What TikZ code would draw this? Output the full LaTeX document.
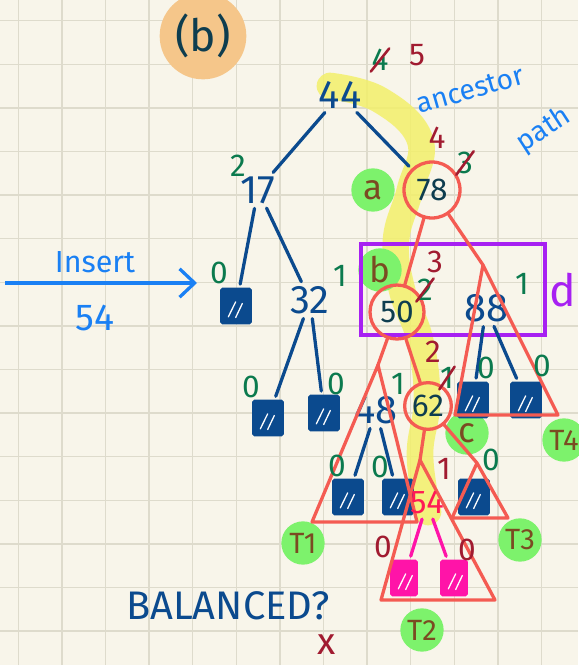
\documentclass[tikz,border=0pt]{standalone}
\usepackage{fontspec}
\setmainfont{Fira Sans}
\usepackage{tikz}
\usetikzlibrary{
  arrows.meta,
  positioning,
  calc
}
\definecolor{Cream}{HTML}{F8F5EA}
\definecolor{GridLine}{HTML}{DEDBCC}
\definecolor{Navy}{HTML}{0B4A8E}
\definecolor{Ink}{HTML}{0E3D4F}
\definecolor{Moss}{HTML}{0B7A4E}
\definecolor{Wine}{HTML}{A11B30}
\definecolor{Coral}{HTML}{F45B52}
\definecolor{Violet}{HTML}{A720F2}
\definecolor{Sky}{HTML}{1A80F4}
\definecolor{Lime}{HTML}{7DF26C}
\definecolor{Umber}{HTML}{7A4B22}
\definecolor{Peach}{HTML}{F5C68A}
\definecolor{Lemon}{HTML}{F3F06A}
\definecolor{Magenta}{HTML}{FF14A8}
\definecolor{Rose}{HTML}{FF1A55}
\tikzset{
  % Tree key
  key/.style={
    inner sep=1pt, text=Navy,
    font=\fontsize{34}{34}\selectfont
  },
  % Key on the ancestor path, ringed in red
  ring/.style={
    circle, inner sep=0pt, draw=Coral, line width=2.8pt,
    text=Ink, font=\fontsize{27}{27}\selectfont
  },
  % Empty subtree box
  leaf/.style={
    rectangle, rounded corners=1.5pt, inner sep=0pt,
    draw=#1, fill=#1, line width=1.6pt,
    minimum width=0.9cm, minimum height=1.05cm,
    path picture={
      \draw[white, line width=1.1pt, line cap=round]
        ([shift={(0.22cm,0.2cm)}]path picture bounding box.south west) -- ++(0.22cm,0.45cm)
        ([shift={(0.44cm,0.18cm)}]path picture bounding box.south west) -- ++(0.2cm,0.42cm);
    }
  },
  % Height / balance figure
  bal/.style={inner sep=0.5pt, text=#1, font=\fontsize{27}{27}\selectfont},
  % Green marker disc
  spot/.style={
    circle, fill=Lime, inner sep=0pt, minimum size=1.3cm,
    text=Umber, font=\fontsize{30}{30}\selectfont
  },
  % Tree edge
  link/.style={line width=2.8pt, color=Navy, line cap=round, shorten <=3pt, shorten >=3pt},
  % Red edge on the path
  redge/.style={line width=2.8pt, color=Coral, line cap=round},
  % Subtree triangle
  tri/.style={draw=Coral, line width=2.8pt, line join=round},
  % Strike-out of an old figure
  slash/.style={line width=2.2pt, color=Wine, line cap=round},
  % Blue side note
  scrawl/.style={inner sep=0pt, text=Sky, font=\fontsize{24}{24}\selectfont},
  % Insert arrow
  insarr/.style={
    -{Straight Barb[length=0.45cm,width=0.85cm]},
    line width=2.8pt, color=Sky
  }
}
\begin{document}
\begin{tikzpicture}[x=0.03cm,y=-0.03cm]

  % Paper and grid
  \useasboundingbox (0,0) rectangle (578,665);
  \fill[Cream] (0,0) rectangle (578,665);
  \foreach \i in {0,...,12}{
    \draw[GridLine, line width=1.2pt] ({18.3+43.6*\i},0) -- ({18.3+43.6*\i},665);
  }
  \foreach \j in {0,...,14}{
    \draw[GridLine, line width=1.2pt] (0,{20.7+43.6*\j}) -- (578,{20.7+43.6*\j});
  }

  % Figure tag
  \node[circle, fill=Peach, minimum size=2.6cm, text=Ink,
        font=\fontsize{38}{38}\selectfont] (fig) at (203,36) {(b)};

  % Ancestor path highlight
  \draw[Lemon, opacity=0.85, line width=0.8cm, line cap=round]
    plot[smooth, tension=0.7] coordinates {(330,86) (380,100) (420,140) (410,190)
      (396,240) (402,290) (420,340) (427,400) (420,455) (428,512)};

  % Green markers
  \foreach \n/\t/\x/\y in {ma/a/373/190, mb/b/380/270, mc/c/467/433}{
    \node[spot] (\n) at (\x,\y) {\t};
  }
  \foreach \n/\t/\x/\y in {mT1/T1/303/543, mT2/T2/422/630, mT3/T3/520/540, mT4/T4/564/440}{
    \node[spot, font=\fontsize{25}{25}\selectfont] (\n) at (\x,\y) {\t};
  }

  % Group box d
  \draw[Violet, line width=3pt] (361,244) rectangle (545,335);
  \node[text=Violet, inner sep=0pt, font=\fontsize{38}{38}\selectfont] (dlab) at (563,290) {d};

  % Keys
  \node[key] (n44) at (340,95) {44};
  \node[key] (n17) at (258,190) {17};
  \node[key] (n32) at (310,300) {32};
  \node[key] (n88) at (486,308) {88};
  \node[key] (n48) at (376,410) {48};
  \node[ring, minimum size=1.68cm] (n78) at (432,190) {78};
  \node[ring, minimum size=1.62cm] (n50) at (397,312) {50};
  \node[ring, minimum size=1.4cm] (n62) at (428,406) {62};

  % Empty subtrees
  \foreach \n/\x/\y in {lf1/236/306, lf2/268/418, lf3/324/413, lf4/473/400,
                        lf5/526/400, lf6/348/497, lf7/398/497, lf8/474/497}{
    \node[leaf=Navy] (\n) at (\x,\y) {};
  }
  \foreach \n/\x/\y in {pk1/404/578, pk2/454/578}{
    \node[leaf=Magenta, minimum width=0.78cm] (\n) at (\x,\y) {};
  }

  % Tree edges
  \foreach \a/\b in {n44/n17, n44/n78, n17/lf1, n17/n32, n32/lf2, n32/lf3,
                     n88/lf4, n88/lf5, n48/lf6, n48/lf7}{
    \draw[link] (\a) -- (\b);
  }

  % Subtree triangles
  \coordinate (t1top) at (378,365); \coordinate (t1l) at (312,522); \coordinate (t1r) at (417,522);
  \coordinate (t2top) at (420,460); \coordinate (t2l) at (381,600); \coordinate (t2r) at (495,600);
  \coordinate (t3top) at (477,463); \coordinate (t3l) at (452,518); \coordinate (t3r) at (508,518);
  \coordinate (t4top) at (483,265); \coordinate (t4l) at (455,415); \coordinate (t4r) at (558,415);
  \foreach \s in {t1,t2,t3,t4}{
    \draw[tri] (\s top) -- (\s l) -- (\s r) -- cycle;
  }

  % Red edges down the path
  \draw[redge] (n78) -- (n50);
  \draw[redge] (n78) -- (t4top);
  \draw[redge] (n50) -- (t1top);
  \draw[redge] (n50) -- (n62);
  \draw[redge] (n62) -- (t2top);
  \draw[redge] (n62) -- (t3top);

  % New key and its empty subtrees
  \node[key, text=Rose, font=\fontsize{28}{28}\selectfont] (n54) at (427,503) {54};
  \foreach \a/\b in {n54/pk1, n54/pk2}{
    \draw[link, Magenta] (\a) -- (\b);
  }

  % Heights
  \foreach \n/\v/\x/\y in {h17/2/238/166, hl1/0/219/273, h32/1/340/276, hl2/0/251/387,
                           hl3/0/336/384, h48/1/398/384, hl6/0/337/466, hl7/0/380/467,
                           hl8/0/491/460, hl4/0/486/368, hl5/0/542/366, h88/1/522/284}{
    \node[bal=Moss] (\n) at (\x,\y) {\v};
  }
  \foreach \n/\v/\x/\y in {o44/4/380/60, o78/3/465/163, o50/2/425/290, o62/1/447/378}{
    \node[bal=Moss] (\n) at (\x,\y) {\v};
    \draw[slash] (\n.south west) -- (\n.north east);
  }
  \foreach \n/\v/\x/\y in {r44/5/417/55, r78/4/437/138, r50/3/435/262, r62/2/433/352,
                           r54/1/444/469, rp1/0/383/547, rp2/0/467/550}{
    \node[bal=Wine] (\n) at (\x,\y) {\v};
  }

  % Notes
  \node[scrawl, rotate=16] (anc) at (470,90) {ancestor};
  \node[scrawl, rotate=33] (pth) at (544,130) {path};
  \coordinate (insS) at (5,283);
  \coordinate (insE) at (197,283);
  \draw[insarr] (insS) -- (insE);
  \node[scrawl, font=\fontsize{26}{26}\selectfont] (ins) at (95,262) {Insert};
  \node[scrawl, font=\fontsize{32}{32}\selectfont] (ins54) at (95,318) {54};
  \node[text=Navy, font=\fontsize{34}{34}\selectfont] (bal) at (228,606) {BALANCED?};
  \node[text=Wine, font=\fontsize{32}{32}\selectfont] (no) at (327,645) {x};

\end{tikzpicture}
\end{document}
